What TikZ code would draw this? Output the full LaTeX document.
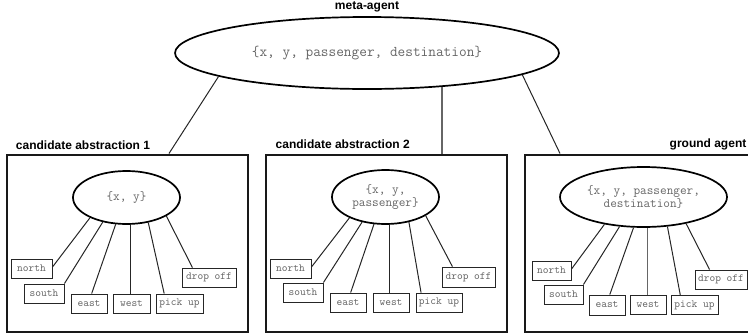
\documentclass[tikz,border=0pt]{standalone}
\usepackage{fontspec}
\setmainfont{Liberation Sans}
\usetikzlibrary{shapes.geometric}
\tikzset{
  panel/.style={draw=black!90,line width=1.7pt,rectangle,inner sep=0pt,anchor=north west},
  state/.style={draw=black,line width=1.7pt,ellipse,inner sep=0pt,align=center,text=black!60,font=\ttfamily\fontsize{12.9}{12.5}\selectfont},
  act/.style={draw=black!85,line width=0.9pt,rectangle,inner sep=0pt,text=black!60,font=\ttfamily\fontsize{10.9}{13}\selectfont},
  title/.style={font=\bfseries\fontsize{12}{14}\selectfont,inner sep=0pt},
  link/.style={draw=black!85,line width=1pt},
  greylink/.style={draw=black!60,line width=1.2pt},
}
\begin{document}
\begin{tikzpicture}[x=1pt,y=-1pt]
\useasboundingbox (0,0) rectangle (748,335);
\clip (0,0) rectangle (748,335);
% panels
\node[panel,minimum width=241pt,minimum height=177pt] (p1) at (6,154) {};
\node[panel,minimum width=241pt,minimum height=177pt] (p2) at (265,154) {};
\node[panel,minimum width=260pt,minimum height=177pt] (p3) at (524,154) {};
% meta agent
\node[state,minimum width=384pt,minimum height=72pt,font=\ttfamily\fontsize{14.9}{17}\selectfont] (meta) at (367,53) {\{x, y, passenger, destination\}};
\node[title] (tm) at (367,7) {meta-agent};
\node[title] (t1) at (83,145) {candidate abstraction 1};
\node[title] (t2) at (342.7,144) {candidate abstraction 2};
\node[title] (t3) at (708,144) {ground agent};
\coordinate (c1) at (169,153.5);
\coordinate (c2) at (442,153.5);
\coordinate (c3) at (560,153.5);
\draw[link] (meta.189.5) -- (c1);
\draw[greylink] (c2 |- meta.335.6) -- (c2);
\draw[link] (meta.352.1) -- (c3);
% group 1
\node[state,minimum width=107pt,minimum height=53pt] (e1) at (126.5,197.5) {\{x, y\}};
\node[act,minimum width=41pt,minimum height=19pt] (a1north) at (31.5,268.5) {north};
\node[act,minimum width=40pt,minimum height=19pt] (a1south) at (44,293.5) {south};
\node[act,minimum width=36pt,minimum height=19pt] (a1east) at (89,303.5) {east};
\node[act,minimum width=37pt,minimum height=19pt] (a1west) at (131.5,303.5) {west};
\node[act,minimum width=47pt,minimum height=19pt] (a1pick) at (179.5,303.5) {pick up};
\node[act,minimum width=54pt,minimum height=19pt] (a1drop) at (209,277.5) {drop off};
\draw[link] (e1.209) -- (a1north.4);
\draw[link] (e1.226) -- (a1south.north east);
\draw[link] (e1.248) -- (a1east.75);
\draw[link] (e1.278) -- (e1.278 |- a1west.north);
\draw[link] (e1.311.5) -- (a1pick.147);
\draw[link] (e1.335.5) -- (a1drop.149);
% group 2
\node[state,minimum width=107pt,minimum height=54pt] (e2) at (385.5,197) {\{x, y,\\passenger\}};
\node[act,minimum width=41pt,minimum height=19pt] (a2north) at (290.5,268.5) {north};
\node[act,minimum width=40pt,minimum height=19pt] (a2south) at (303,292.5) {south};
\node[act,minimum width=36pt,minimum height=19pt] (a2east) at (348,302.5) {east};
\node[act,minimum width=36pt,minimum height=19pt] (a2west) at (391,302.5) {west};
\node[act,minimum width=46pt,minimum height=19pt] (a2pick) at (439,302.5) {pick up};
\node[act,minimum width=53pt,minimum height=20pt] (a2drop) at (468.5,277) {drop off};
\draw[link] (e2.210) -- (a2north.4);
\draw[link] (e2.227) -- (a2south.north east);
\draw[link] (e2.247) -- (a2east.75);
\draw[link] (e2.279.5) -- (e2.279.5 |- a2west.north);
\draw[link] (e2.313) -- (a2pick.151);
\draw[link] (e2.335) -- (a2drop.147);
% group 3
\node[state,minimum width=167pt,minimum height=60pt] (e3) at (643.5,197) {\{x, y, passenger,\\destination\}};
\node[act,minimum width=39pt,minimum height=19pt] (a3north) at (551.5,270.5) {north};
\node[act,minimum width=39pt,minimum height=19pt] (a3south) at (563.5,294.5) {south};
\node[act,minimum width=36pt,minimum height=20pt] (a3east) at (607,305) {east};
\node[act,minimum width=36pt,minimum height=19pt] (a3west) at (648,304.5) {west};
\node[act,minimum width=47pt,minimum height=19pt] (a3pick) at (694.5,305) {pick up};
\node[act,minimum width=52pt,minimum height=19pt] (a3drop) at (721,279.5) {drop off};
\draw[link] (e3.215.8) -- (a3north.4);
\draw[link] (e3.231) -- (a3south.north east);
\draw[link] (e3.252.4) -- (a3east.75);
\draw[greylink] (e3.278.5) -- (e3.278.5 |- a3west.north);
\draw[link] (e3.309) -- (a3pick.145);
\draw[link] (e3.328.5) -- (a3drop.139);
\end{tikzpicture}
\end{document}
